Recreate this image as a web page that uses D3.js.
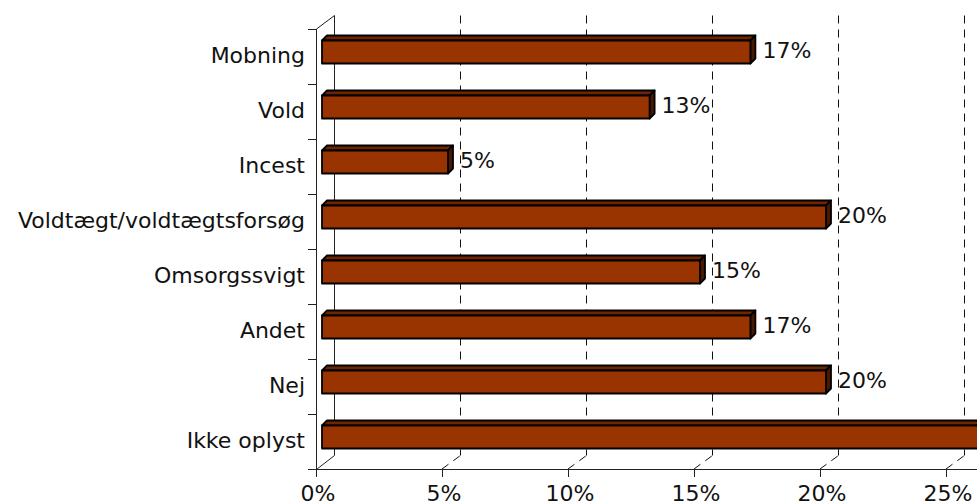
<!DOCTYPE html>
<html>
<head>
<meta charset="utf-8">
<script src="https://cdn.jsdelivr.net/npm/d3@7"></script>
<style>
  html, body { margin: 0; padding: 0; background: #fff; overflow: hidden; }
  svg { display: block; }
  text { font-family: "DejaVu Sans", Verdana, sans-serif; fill: #111; }
</style>
</head>
<body>
<svg id="chart" width="977" height="504"></svg>
<script>
// Answers per category (share of respondents, %)
const categories = ["Mobning", "Vold", "Incest", "Voldtægt/voldtægtsforsøg",
                    "Omsorgssvigt", "Andet", "Nej", "Ikke oplyst"];
const values = [17, 13, 5, 20, 15, 17, 20, 27];
const tickValues = [0, 5, 10, 15, 20, 25, 30];
const tickLabels = ["0%", "5%", "10%", "15%", "20%", "25%", "30%"];

(function () {
  const svg = d3.select("#chart");

  // Oblique 3D geometry: front plane, back wall offset, bar depth
  const plotLeft = 316, plotTop = 29, plotBottom = 469;
  const wall = { dx: 18, dy: -13.5 };     // front plane -> back wall
  const barFront = { dx: 6, dy: -4.5 };   // front plane -> bar front face
  const barDepth = { dx: 5, dy: -5 };     // bar front face -> bar back face
  const barH = 23;

  const x = d3.scaleLinear().domain([0, 30]).range([plotLeft, plotLeft + 756]);
  const pad = 32 / 55;
  const y = d3.scaleBand().domain(categories).range([plotTop, plotBottom])
    .paddingInner(pad).paddingOuter(pad / 2);
  const crisp = v => Math.round(v) + 0.5;

  const gGrid = svg.append("g");

  // Back-wall gridlines (dashed) and their floor diagonals
  tickValues.slice(1).forEach(v => {
    const fx = x(v);
    gGrid.append("line")
      .attr("x1", crisp(fx + wall.dx)).attr("y1", plotTop + wall.dy)
      .attr("x2", crisp(fx + wall.dx)).attr("y2", plotBottom + wall.dy)
      .attr("stroke", "#111").attr("stroke-width", 1)
      .attr("stroke-dasharray", "8,6");
    gGrid.append("line")
      .attr("x1", fx).attr("y1", plotBottom)
      .attr("x2", crisp(fx + wall.dx)).attr("y2", plotBottom + wall.dy)
      .attr("stroke", "#111").attr("stroke-width", 1)
      .attr("stroke-dasharray", "8,6");
  });

  // Side wall: front axis, back edge, top and bottom connectors
  const axisStroke = "#222";
  const L = crisp(plotLeft), LB = crisp(plotLeft + wall.dx), B = crisp(plotBottom);
  gGrid.append("line").attr("x1", L).attr("y1", plotTop)
    .attr("x2", L).attr("y2", B).attr("stroke", axisStroke);
  gGrid.append("line").attr("x1", LB).attr("y1", plotTop + wall.dy)
    .attr("x2", LB).attr("y2", plotBottom + wall.dy).attr("stroke", axisStroke);
  gGrid.append("line").attr("x1", L).attr("y1", plotTop)
    .attr("x2", LB).attr("y2", plotTop + wall.dy).attr("stroke", axisStroke);
  gGrid.append("line").attr("x1", L).attr("y1", B)
    .attr("x2", LB).attr("y2", plotBottom + wall.dy).attr("stroke", axisStroke);

  // Bottom axis line with ticks
  gGrid.append("line").attr("x1", L).attr("y1", B)
    .attr("x2", 977).attr("y2", B).attr("stroke", axisStroke);
  svg.append("g").selectAll("line").data(tickValues).join("line")
    .attr("x1", d => crisp(x(d))).attr("x2", d => crisp(x(d)))
    .attr("y1", B).attr("y2", plotBottom + 8)
    .attr("stroke", axisStroke);
  svg.append("g").selectAll("text").data(tickValues).join("text")
    .attr("x", d => x(d) + 2).attr("y", 501)
    .attr("text-anchor", "middle").attr("font-size", 22)
    .text((d, i) => tickLabels[i]);

  // Category axis ticks at band boundaries
  const step = y.step();
  const bounds = d3.range(categories.length + 1).map(i => crisp(plotTop + i * step));
  svg.append("g").selectAll("line").data(bounds).join("line")
    .attr("x1", plotLeft - 8).attr("x2", L)
    .attr("y1", d => d).attr("y2", d => d)
    .attr("stroke", axisStroke);

  // Category labels
  svg.append("g").selectAll("text").data(categories).join("text")
    .attr("x", 305)
    .attr("y", d => y(d) + y.bandwidth() / 2 - 1)
    .attr("dominant-baseline", "central")
    .attr("text-anchor", "end").attr("font-size", 22)
    .text(d => d);

  // 3D bars: top face, end face, front face
  const data = categories.map((c, i) => ({ c, v: values[i] }));
  const bars = svg.append("g").selectAll("g").data(data).join("g");

  function outlined(sel) {
    return sel.attr("stroke", "#000").attr("stroke-width", 1.8)
      .attr("stroke-linejoin", "round");
  }

  bars.each(function (d) {
    const g = d3.select(this);
    const x0 = x(0) + barFront.dx, x1 = x(d.v) + barFront.dx;
    const yt = y(d.c) + barFront.dy, yb = yt + barH;
    const ddx = barDepth.dx, ddy = barDepth.dy;
    outlined(g.append("polygon")
      .attr("points", [[x0, yt], [x0 + ddx, yt + ddy], [x1 + ddx, yt + ddy], [x1, yt]].join(" "))
      .attr("fill", "#702400"));
    outlined(g.append("polygon")
      .attr("points", [[x1, yt], [x1 + ddx, yt + ddy], [x1 + ddx, yb + ddy], [x1, yb]].join(" "))
      .attr("fill", "#4a1800"));
    outlined(g.append("rect")
      .attr("x", x0).attr("y", yt).attr("width", x1 - x0).attr("height", barH)
      .attr("fill", "#993300"));
  });

  // Value labels
  svg.append("g").selectAll("text").data(data).join("text")
    .attr("x", d => x(d.v) + wall.dx)
    .attr("y", d => y(d.c) + barFront.dy + barH / 2 - 2)
    .attr("dominant-baseline", "central")
    .attr("font-size", 22)
    .text(d => d.v + "%");
})();
</script>
</body>
</html>
